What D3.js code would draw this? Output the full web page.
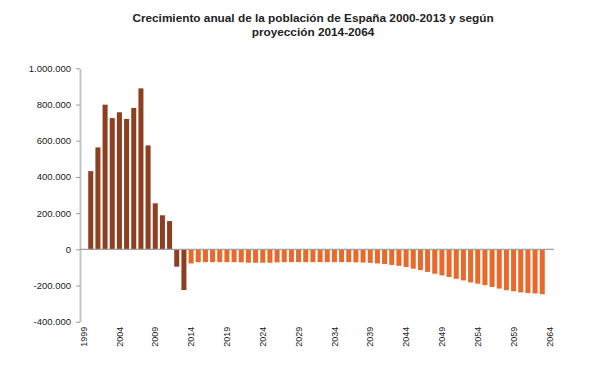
<!DOCTYPE html>
<html><head><meta charset="utf-8">
<script src="https://cdn.jsdelivr.net/npm/d3@7"></script>
<style>body{margin:0;background:#fff;}svg{display:block;font-family:Arial,"Liberation Sans",sans-serif;}</style>
</head><body>
<script>
const titleLines = ["Crecimiento anual de la población de España 2000-2013 y según", "proyección 2014-2064"];
const years = d3.range(1999, 2065);
const historicalYears = d3.range(2000, 2014);
const historical = [432000, 563000, 799000, 725000, 757000, 720000, 781000, 889000, 574000, 254000, 188000, 156000, -96000, -225000];
const projectionYears = d3.range(2014, 2064);
const projection = [-78000, -71000, -71000, -71000, -71000, -71000, -71000, -72000, -74000, -74000,
  -74000, -74000, -72000, -71000, -71000, -71000, -71000, -71000, -71000, -71000,
  -71000, -71000, -71000, -72000, -73000, -75000, -78000, -81000, -86000, -91000,
  -98000, -107000, -115000, -125000, -135000, -144000, -153000, -163000, -172000, -183000,
  -190000, -198000, -208000, -217000, -226000, -232000, -238000, -242000, -244000, -248000];
const yTicks = [-400000, -200000, 0, 200000, 400000, 600000, 800000, 1000000];
const xTickLabels = d3.range(1999, 2065, 5);

const W = 592, H = 392;
const m = {left: 80, right: 39, top: 68.3, bottom: 70.3};
const svg = d3.select("body").append("svg").attr("width", W).attr("height", H);

const x = d3.scaleBand().domain(years).range([m.left, W - m.right]).paddingInner(0.3).paddingOuter(0.15);
const y = d3.scaleLinear().domain([-400000, 1000000]).range([H - m.bottom, m.top]);

svg.append("g").selectAll("text").data(titleLines).join("text")
  .attr("x", 313).attr("y", (d, i) => 22 + i * 14)
  .attr("text-anchor", "middle").attr("font-weight", "bold").attr("font-size", 11.8).attr("fill", "#222")
  .text(d => d);

const fmt = v => v === 0 ? "0" : d3.format(",")(v).replace(/,/g, ".").replace("−", "-");

// y axis
const yAxis = svg.append("g").attr("transform", `translate(${m.left},0)`)
  .call(d3.axisLeft(y).tickValues(yTicks).tickSize(4).tickSizeOuter(0).tickPadding(5).tickFormat(fmt));
yAxis.select(".domain").attr("stroke", "#c4c4c4").attr("stroke-width", 2);
yAxis.selectAll(".tick line").attr("stroke", "#9a9a9a");
yAxis.selectAll("text").attr("font-size", 9.5).attr("fill", "#1a1a1a").attr("font-family", "Arial, 'Liberation Sans', sans-serif");

const data = historicalYears.map((yr, i) => ({year: yr, value: historical[i], hist: true}))
  .concat(projectionYears.map((yr, i) => ({year: yr, value: projection[i], hist: false})));

svg.append("g").selectAll("rect").data(data).join("rect")
  .attr("x", d => x(d.year))
  .attr("width", x.bandwidth())
  .attr("y", d => y(Math.max(0, d.value)))
  .attr("height", d => Math.abs(y(d.value) - y(0)))
  .attr("fill", d => d.hist ? "#8d3f1f" : "#e8692a");

// zero line
svg.append("line").attr("x1", m.left).attr("x2", W - m.right + 1)
  .attr("y1", y(0)).attr("y2", y(0)).attr("stroke", "#a0a0a0").attr("stroke-width", 1.2);

// x labels
const xAxis = svg.append("g").attr("transform", `translate(0,${H - m.bottom})`)
  .call(d3.axisBottom(x).tickValues(xTickLabels).tickSize(0).tickPadding(0));
xAxis.select(".domain").remove();
xAxis.selectAll("text")
  .attr("transform", "rotate(-90)")
  .attr("text-anchor", "end").attr("x", -5).attr("y", 0).attr("dy", "0.35em")
  .attr("font-size", 9).attr("fill", "#1a1a1a").attr("font-family", "Arial, 'Liberation Sans', sans-serif");
</script>
</body></html>
